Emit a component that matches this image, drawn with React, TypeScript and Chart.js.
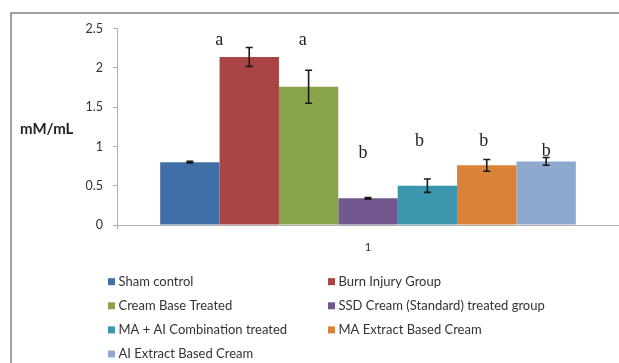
import React, { useEffect, useRef } from "react";
import { Chart, registerables } from "chart.js";

Chart.register(...registerables);

const categories = ["1"];
const seriesNames = [
  "Sham control",
  "Burn Injury Group",
  "Cream Base Treated",
  "SSD Cream (Standard) treated group",
  "MA + AI Combination treated",
  "MA Extract Based Cream",
  "AI Extract Based Cream",
];
const seriesValues = [0.8, 2.14, 1.76, 0.34, 0.5, 0.76, 0.81];
const seriesErrors = [0.01, 0.12, 0.21, 0.01, 0.085, 0.075, 0.05];
const sigLetters = ["", "a", "a", "b", "b", "b", "b"];
const sigLetterAt = [0, 2.29, 2.29, 0.85, 1.01, 1.01, 0.88];
const yTicks = [0, 0.5, 1, 1.5, 2, 2.5];

const colors = ["#3F6FA6", "#A84544", "#89A54C", "#71578E", "#3C96AE", "#DA823A", "#8EA8CF"];
const letterNudge = [0, -30, -6, -5, -8, -3, 0];

const decorPlugin = {
  id: "decor",
  afterDraw(chart: any) {
    const ctx = chart.ctx;
    const yScale = chart.scales.y;
    ctx.save();
    // frame
    ctx.strokeStyle = "#7f7f7f";
    ctx.lineWidth = 1.5;
    ctx.beginPath();
    ctx.moveTo(11, 363);
    ctx.lineTo(11, 13);
    ctx.lineTo(619, 13);
    ctx.stroke();

    // y title
    ctx.fillStyle = "#222";
    ctx.font = "bold 15px Lato";
    ctx.textAlign = "left";
    ctx.textBaseline = "alphabetic";
    ctx.fillText("mM/mL", 20, 134);

    // error bars and letters
    chart.data.datasets.forEach((ds: any, i: number) => {
      const meta = chart.getDatasetMeta(i);
      const bar = meta.data[0];
      if (!bar) return;
      const v = seriesValues[i];
      const e = seriesErrors[i];
      const yT = yScale.getPixelForValue(v + e);
      const yB = yScale.getPixelForValue(v - e);
      ctx.strokeStyle = "#1a1a1a";
      ctx.lineWidth = 1.6;
      ctx.beginPath();
      ctx.moveTo(bar.x, yT);
      ctx.lineTo(bar.x, yB);
      ctx.moveTo(bar.x - 3.5, yT);
      ctx.lineTo(bar.x + 3.5, yT);
      ctx.moveTo(bar.x - 3.5, yB);
      ctx.lineTo(bar.x + 3.5, yB);
      ctx.stroke();
      if (sigLetters[i]) {
        ctx.fillStyle = "#222";
        ctx.font = "18px 'Liberation Serif'";
        ctx.textAlign = "center";
        ctx.textBaseline = "alphabetic";
        ctx.fillText(sigLetters[i], bar.x + letterNudge[i], yScale.getPixelForValue(sigLetterAt[i]));
      }
    });

    // legend (two columns)
    ctx.font = "13px Lato";
    ctx.textBaseline = "middle";
    ctx.textAlign = "left";
    chart.data.datasets.forEach((ds: any, i: number) => {
      const col = i % 2;
      const row = Math.floor(i / 2);
      const x = col === 0 ? 108 : 328;
      const y = 281.7 + row * 24.1;
      ctx.fillStyle = ds.backgroundColor;
      ctx.fillRect(x, y - 3.5, 7, 7);
      ctx.fillStyle = "#333";
      ctx.fillText(ds.label, x + 10.5, y);
    });
    ctx.restore();
  },
};

export default function App() {
  const ref = useRef<HTMLCanvasElement>(null);
  useEffect(() => {
    if (!ref.current) return;
    const chart = new Chart(ref.current, {
      type: "bar",
      data: {
        labels: categories,
        datasets: seriesNames.map((name, i) => ({
          label: name,
          data: [seriesValues[i]],
          backgroundColor: colors[i],
          borderWidth: 0,
          categoryPercentage: 0.828,
          barPercentage: 1,
        })),
      },
      options: {
        responsive: false,
        animation: false,
        layout: { padding: { top: 28.7, left: 0, right: 0, bottom: 0 } },
        plugins: {
          legend: { display: false },
          tooltip: { enabled: false },
        },
        scales: {
          x: {
            grid: { drawOnChartArea: false, drawTicks: true, tickLength: 4, color: "#b0b0b0", offset: true },
            border: { display: true, color: "#b0b0b0", width: 1 },
            ticks: { color: "#333", font: { family: "Lato", size: 12 }, padding: 11 },
            afterFit(scale: any) {
              scale.height = 138;
            },
          },
          y: {
            min: 0,
            max: 2.5,
            afterBuildTicks(scale: any) {
              scale.ticks = yTicks.map((v) => ({ value: v }));
            },
            grid: { drawOnChartArea: false, drawTicks: true, tickLength: 4, color: "#b0b0b0" },
            border: { display: true, color: "#b0b0b0", width: 1 },
            ticks: {
              color: "#333",
              font: { family: "Lato", size: 12.5 },
              padding: 10,
              callback: (v: any) => String(Number(v)),
            },
            afterFit(scale: any) {
              scale.width = 117;
            },
          },
        },
      },
      plugins: [decorPlugin],
    });
    return () => chart.destroy();
  }, []);
  return (
    <div style={{ position: "absolute", left: 0, top: 0, width: 619, height: 363, background: "#fff" }}>
      <canvas ref={ref} width={619} height={363} style={{ display: "block" }} />
    </div>
  );
}
